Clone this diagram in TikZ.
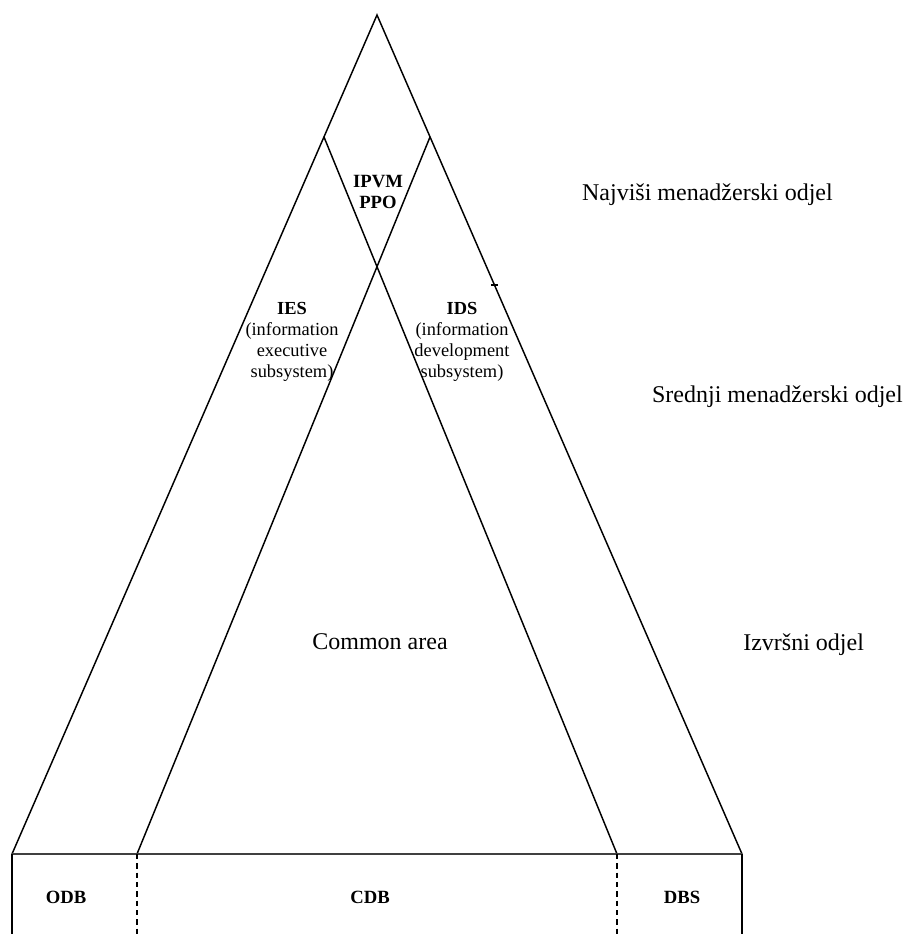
\documentclass[tikz,border=0pt]{standalone}
\usepackage{fontspec}
\setmainfont{Liberation Serif}
\begin{document}
\begin{tikzpicture}[x=0.75pt,y=-0.75pt,
    every node/.style={inner sep=0pt},
    level/.style={font=\fontsize{18}{20}\selectfont},
    part/.style={font=\bfseries\fontsize{14}{15.75}\selectfont, align=center},
    subsys/.style={font=\fontsize{13.8}{15.75}\selectfont, align=center}]
    \useasboundingbox (0,0) rectangle (906,934);
    % pyramid
    \coordinate (top) at (377,15);
    \coordinate (bl) at (12,854);
    \coordinate (br) at (742,854);
    \coordinate (il) at (324,137);
    \coordinate (ir) at (430,137);
    \coordinate (cl) at (137,854);
    \coordinate (cr) at (617,854);
    \coordinate (bl-end) at (12,934);
    \coordinate (br-end) at (742,934);
    \coordinate (cl-end) at (137,934);
    \coordinate (cr-end) at (617,934);

    \draw [line width=1.1pt] (bl) -- (top) -- (br);
    \draw [line width=1.1pt] (il) -- (cr);
    \draw [line width=1.1pt] (ir) -- (cl);
    \draw [line width=1.1pt] (491,285) -- ++(7,0);

    % databases
    \draw [line width=1.6pt, black!75] (bl) -- (br);
    \draw [line width=1.1pt] (bl) -- (bl-end);
    \draw [line width=1.1pt] (br) -- (br-end);
    \draw [line width=1pt, dashed, dash pattern=on 4pt off 3pt] (cl) -- (cl-end);
    \draw [line width=1pt, dashed, dash pattern=on 4pt off 3pt] (cr) -- (cr-end);

    \node [part] (ipvm) at (378,192) {IPVM\\PPO};
    \node [subsys] (ies) at (292,342) {\textbf{IES}\\(information\\executive\\subsystem)};
    \node [subsys] (ids) at (462,342) {\textbf{IDS}\\(information\\development\\subsystem)};
    \node [level] (common) at (380,642) {Common area};

    \node [part] (odb) at (66,897) {ODB};
    \node [part] (cdb) at (370,897) {CDB};
    \node [part] (dbs) at (682,897) {DBS};

    \node [level, anchor=east] (top-mgmt) at (833,195) {Najviši menadžerski odjel};
    \node [level, anchor=east] (mid-mgmt) at (903,397) {Srednji menadžerski odjel};
    \node [level, anchor=west] (exec) at (743,645) {Izvršni odjel};
\end{tikzpicture}
\end{document}
